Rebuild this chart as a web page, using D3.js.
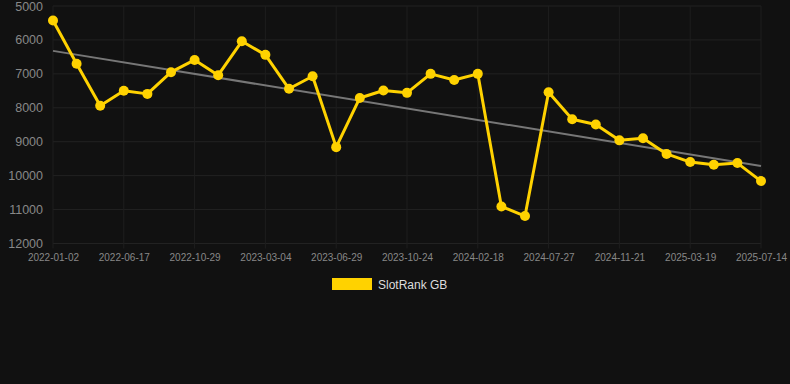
<!DOCTYPE html>
<html>
<head>
<meta charset="utf-8">
<script src="https://cdn.jsdelivr.net/npm/d3@7"></script>
<style>
html,body{margin:0;padding:0;background:#111111;}
svg{display:block;}
text{font-family:"Liberation Sans",Arial,Helvetica,sans-serif;}
</style>
</head>
<body>
<svg id="chart" width="790" height="384"></svg>
<script>
const dates = ["2022-01-02","2022-02-26","2022-04-22","2022-06-17","2022-08-01","2022-09-14","2022-10-29",
"2022-12-10","2023-01-21","2023-03-04","2023-04-12","2023-05-21","2023-06-29","2023-08-07","2023-09-15",
"2023-10-24","2023-12-02","2024-01-10","2024-02-18","2024-04-11","2024-06-03","2024-07-27","2024-09-04",
"2024-10-13","2024-11-21","2024-12-31","2025-02-08","2025-03-19","2025-04-27","2025-06-05","2025-07-14"];
const values = [5430,6700,7940,7500,7590,6950,6590,7040,6040,6440,7440,7070,9160,7710,7490,7560,7000,7180,
7000,10910,11190,7540,8340,8490,8960,8900,9360,9600,9680,9630,10160];
const yTicks = [5000,6000,7000,8000,9000,10000,11000,12000];
const seriesName = "SlotRank GB";

const svg = d3.select("#chart");
const pLeft = 53, pRight = 761, pTop = 6, pBottom = 243.5;

const x = d3.scalePoint().domain(dates).range([pLeft, pRight]);
const y = d3.scaleLinear().domain([5000, 12000]).range([pTop, pBottom]);

const labeled = dates.filter((d, i) => i % 3 === 0);

// grid
const g = svg.append("g");
g.selectAll(".hg").data(yTicks).enter().append("line")
  .attr("x1", pLeft).attr("x2", pRight)
  .attr("y1", d => y(d)).attr("y2", d => y(d))
  .attr("stroke", "#222").attr("stroke-width", 1);
g.selectAll(".vg").data(labeled).enter().append("line")
  .attr("x1", d => x(d)).attr("x2", d => x(d))
  .attr("y1", pTop).attr("y2", pBottom + 5)
  .attr("stroke", "#1e1e1e").attr("stroke-width", 1);

// y axis labels
const yAxis = d3.axisLeft(y).tickValues(yTicks).tickSize(0).tickPadding(10).tickFormat(d3.format("d"));
const ya = svg.append("g").attr("transform", `translate(${pLeft},0)`).call(yAxis);
ya.select(".domain").remove();
ya.selectAll("text").attr("fill", "#888").attr("font-size", 12.5).style("font-family", "'Liberation Sans',Arial,sans-serif");

// x axis labels
const xAxis = d3.axisBottom(x).tickValues(labeled).tickSize(0).tickPadding(10);
const xa = svg.append("g").attr("transform", `translate(0,${pBottom})`).call(xAxis);
xa.select(".domain").remove();
xa.selectAll("text").attr("fill", "#888").attr("font-size", 10).style("font-family", "'Liberation Sans',Arial,sans-serif");

// trend line (least squares)
const n = values.length;
const idx = d3.range(n);
const mx = d3.mean(idx), my = d3.mean(values);
const slope = d3.sum(idx, i => (i - mx) * (values[i] - my)) / d3.sum(idx, i => (i - mx) ** 2);
const icpt = my - slope * mx;
svg.append("line")
  .attr("x1", x(dates[0])).attr("y1", y(icpt))
  .attr("x2", x(dates[n - 1])).attr("y2", y(icpt + slope * (n - 1)))
  .attr("stroke", "#777").attr("stroke-width", 2);

// series line
const line = d3.line().x((d, i) => x(dates[i])).y(d => y(d));
svg.append("path").datum(values).attr("d", line)
  .attr("fill", "none").attr("stroke", "#FFD200").attr("stroke-width", 3).attr("stroke-linejoin", "round");

svg.selectAll(".pt").data(values).enter().append("circle")
  .attr("cx", (d, i) => x(dates[i])).attr("cy", d => y(d)).attr("r", 5)
  .attr("fill", "#FFD200");

// legend
svg.append("rect").attr("x", 332).attr("y", 278).attr("width", 40).attr("height", 12).attr("fill", "#FFD200");
svg.append("text").attr("x", 378).attr("y", 288.5).text(seriesName)
  .attr("fill", "#ddd").attr("font-size", 12);
</script>
</body>
</html>
